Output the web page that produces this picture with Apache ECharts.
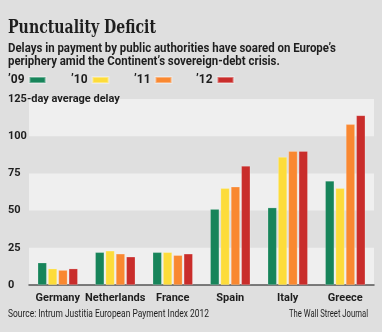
<!DOCTYPE html>
<html>
<head>
<meta charset="utf-8">
<script src="https://cdn.jsdelivr.net/npm/echarts@6/dist/echarts.min.js"></script>
<style>
  html, body { margin: 0; padding: 0; background: #dfdfdf; }
  #chart { width: 382px; height: 332px; }
</style>
</head>
<body>
<div id="chart"></div>
<script>
// Average payment delay by public authorities, in days
const countries = ['Germany', 'Netherlands', 'France', 'Spain', 'Italy', 'Greece'];
const years = ['\u201909', '\u201910', '\u201911', '\u201912'];
const delay09 = [15, 22, 22, 51, 52, 70];
const delay10 = [11, 23, 22, 65, 86, 65];
const delay11 = [10, 21, 20, 66, 90, 108];
const delay12 = [11, 19, 21, 80, 90, 114];
const yTicks = [0, 25, 50, 75, 100, 125];

const titleText = 'Punctuality Deficit';
const subtitleLines = [
  'Delays in payment by public authorities have soared on Europe\u2019s',
  'periphery amid the Continent\u2019s sovereign-debt crisis.'
];
const sourceText = 'Source: Intrum Justitia European Payment Index 2012';
const creditText = 'The Wall Street Journal';

const colors = ['#17845a', '#fddc3a', '#f98831', '#c92d2b'];
const seriesValues = [delay09, delay10, delay11, delay12];

const sans = 'Roboto, "DejaVu Sans", sans-serif';
const serif = '"DejaVu Serif", serif';

// Horizontal squeeze so a line of text in a wide font fits a narrower measure
const ctx = document.createElement('canvas').getContext('2d');
function squeeze(text, font, width) {
  ctx.font = font;
  return Math.min(1, width / ctx.measureText(text).width);
}

const titleFont = 'bold 19px ' + serif;
const subFont = 'bold 13px ' + sans;
const noteFont = '11px ' + sans;
const titleScale = squeeze(titleText, titleFont, 148);
const subScale = squeeze(subtitleLines[0], subFont, 328);
const sourceScale = squeeze(sourceText, noteFont, 201);
const creditScale = squeeze(creditText, noteFont, 79);

function textEl(text, font, x, y, scale, align) {
  return {
    type: 'text',
    x: x, y: y,
    scaleX: scale,
    style: {
      text: text, x: 0, y: 0, font: font,
      fill: '#1e1e1e', textAlign: align || 'left', textVerticalAlign: 'middle'
    }
  };
}

// One legend block per year, evenly spaced across the top
const legendLefts = [8, 71, 134, 196];
const legends = years.map((y, i) => ({
  left: legendLefts[i], top: 74,
  padding: 0,
  align: 'right',
  itemWidth: 16, itemHeight: 6,
  icon: 'rect',
  textStyle: { fontFamily: sans, fontWeight: 'bold', fontSize: 12, color: '#1e1e1e' },
  data: [y]
}));

const chart = echarts.init(document.getElementById('chart'));
chart.setOption({
  backgroundColor: '#dfdfdf',
  animation: false,
  textStyle: { fontFamily: sans },
  graphic: [
    textEl(titleText, titleFont, 8, 28, titleScale),
    textEl(subtitleLines[0], subFont, 8, 48.5, subScale),
    textEl(subtitleLines[1], subFont, 8, 62, subScale),
    textEl(sourceText, noteFont, 8, 314, sourceScale),
    textEl(creditText, noteFont, 368, 314, creditScale, 'right')
  ],
  legend: legends,
  grid: { left: 29, right: 8, top: 99, bottom: 47, containLabel: false },
  xAxis: {
    type: 'category',
    data: countries,
    axisLine: { lineStyle: { color: '#555', width: 1.5 } },
    axisTick: { alignWithLabel: true, length: 4, lineStyle: { color: '#555' } },
    axisLabel: { interval: 0, margin: 8, fontFamily: sans, fontWeight: 'bold', fontSize: 11, color: '#1e1e1e' }
  },
  yAxis: {
    type: 'value',
    min: 0, max: 125, interval: 25,
    axisLine: { show: false },
    axisTick: { show: false },
    splitLine: { show: false },
    splitArea: { show: true, areaStyle: { color: ['#efefef', 'rgba(0,0,0,0)'] } },
    axisLabel: {
      align: 'left', margin: 21,
      fontFamily: sans, fontWeight: 'bold', fontSize: 11, color: '#1e1e1e',
      formatter: v => (yTicks.includes(v) ? (v === 125 ? '125-day average delay' : String(v)) : '')
    }
  },
  series: seriesValues.map((vals, i) => ({
    name: years[i],
    type: 'bar',
    data: vals,
    barWidth: 9,
    barGap: '15%',
    itemStyle: { color: colors[i], borderColor: 'rgba(255,255,255,0.35)', borderWidth: 0.6 }
  }))
});
</script>
</body>
</html>
